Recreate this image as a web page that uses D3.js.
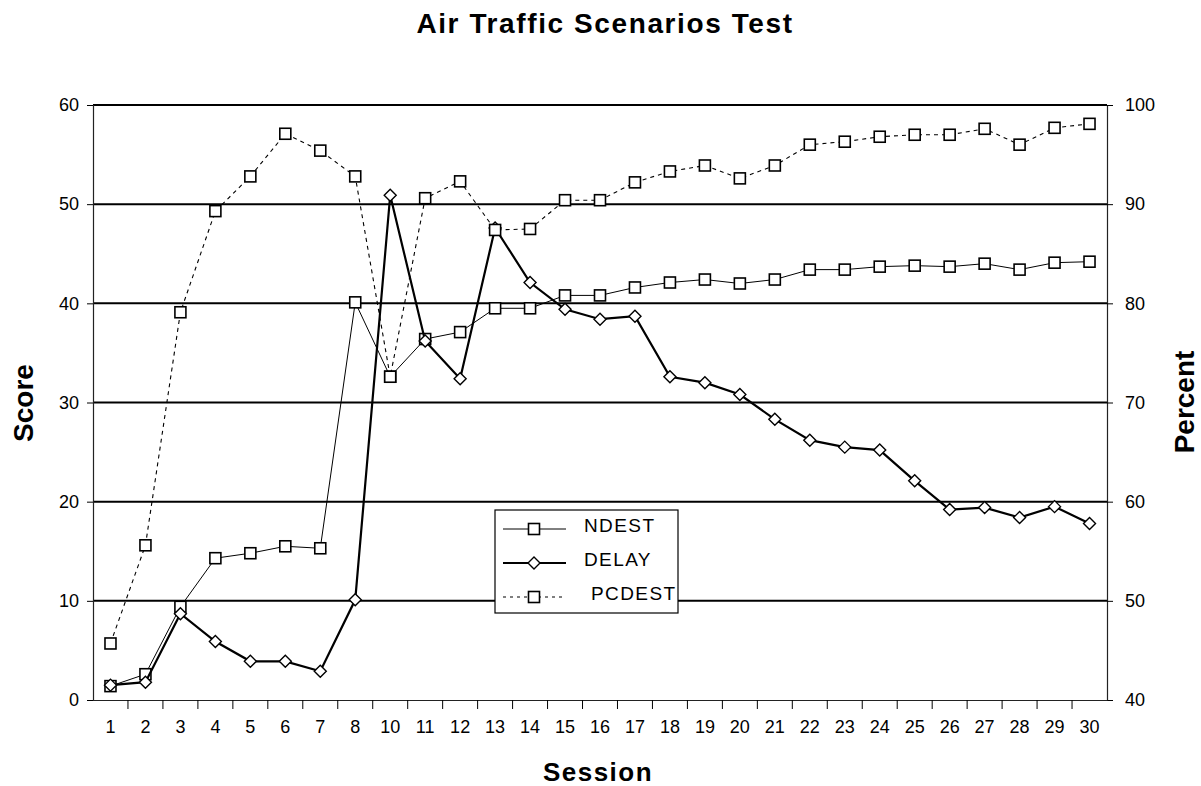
<!DOCTYPE html>
<html>
<head>
<meta charset="utf-8">
<script src="https://cdn.jsdelivr.net/npm/d3@7"></script>
<style>
  body { margin: 0; background: #fff; }
  text { font-family: "Liberation Sans", Arial, sans-serif; fill: #000; }
</style>
</head>
<body>
<div id="chart"></div>
<script>
// data (session 9 is missing in the original)
const sessions = ["1","2","3","4","5","6","7","8","10","11","12","13","14","15","16","17","18","19","20","21","22","23","24","25","26","27","28","29","30"];
const ndest = [1.4, 2.6, 9.4, 14.3, 14.8, 15.5, 15.3, 40.1, 32.6, 36.4, 37.1, 39.5, 39.5, 40.8, 40.8, 41.6, 42.1, 42.4, 42.0, 42.4, 43.4, 43.4, 43.7, 43.8, 43.7, 44.0, 43.4, 44.1, 44.2];
const delay = [1.5, 1.8, 8.7, 5.9, 3.9, 3.9, 2.9, 10.1, 50.9, 36.2, 32.4, 47.6, 42.1, 39.4, 38.4, 38.7, 32.6, 32.0, 30.8, 28.3, 26.2, 25.5, 25.2, 22.1, 19.2, 19.4, 18.4, 19.5, 17.8];
const pcdest = [45.7, 55.6, 79.1, 89.3, 92.8, 97.1, 95.4, 92.8, 72.6, 90.6, 92.3, 87.4, 87.5, 90.4, 90.4, 92.2, 93.3, 93.9, 92.6, 93.9, 96.0, 96.3, 96.8, 97.0, 97.0, 97.6, 96.0, 97.7, 98.1];
const scoreTicks = [0, 10, 20, 30, 40, 50, 60];
const percentTicks = [40, 50, 60, 70, 80, 90, 100];

const width = 1201, height = 786;
const plotLeft = 93, plotRight = 1107, plotTop = 105, plotBottom = 700;

const svg = d3.select("#chart").append("svg")
    .attr("width", width)
    .attr("height", height);

// scales
// ------------------------------------------------------
const x = d3.scaleBand().domain(sessions).range([plotLeft, plotRight]);
const yScore = d3.scaleLinear().domain([0, 60]).range([plotBottom, plotTop]);
const yPct = d3.scaleLinear().domain([40, 100]).range([plotBottom, plotTop]);
const cx = d => x(d) + x.bandwidth() / 2;

// gridlines
// ------------------------------------------------------
svg.append("g").selectAll("line")
    .data(scoreTicks.filter(t => t > 0))
    .join("line")
    .attr("x1", plotLeft).attr("x2", plotRight)
    .attr("y1", d => yScore(d)).attr("y2", d => yScore(d))
    .attr("stroke", "#000")
    .attr("stroke-width", 2);

// axes
// ------------------------------------------------------
const leftAxis = svg.append("g")
    .attr("transform", `translate(${plotLeft},0)`)
    .call(d3.axisLeft(yScore).tickValues(scoreTicks).tickSize(6).tickPadding(8));

const rightAxis = svg.append("g")
    .attr("transform", `translate(${plotRight},0)`)
    .call(d3.axisRight(yPct).tickValues(percentTicks).tickSize(6).tickPadding(12));

const bottomAxis = svg.append("g")
    .attr("transform", `translate(0,${plotBottom})`)
    .call(d3.axisBottom(x).tickSize(0).tickPadding(20));

// tick marks sit between the sessions
bottomAxis.selectAll(".sep")
    .data(sessions.slice(1))
    .join("line")
    .attr("class", "sep")
    .attr("x1", d => x(d)).attr("x2", d => x(d))
    .attr("y1", 0).attr("y2", 9)
    .attr("stroke", "#000");

[leftAxis, rightAxis, bottomAxis].forEach(a => {
    a.select(".domain").attr("stroke", "#222").attr("stroke-width", 1.2);
    a.selectAll(".tick line").attr("stroke", "#000");
    a.selectAll("text")
        .attr("font-family", "'Liberation Sans', Arial, sans-serif")
        .attr("font-size", 18)
        .attr("fill", "#000");
});

// series
// ------------------------------------------------------
const lineScore = d3.line().x((d, i) => cx(sessions[i])).y(d => yScore(d));
const linePct = d3.line().x((d, i) => cx(sessions[i])).y(d => yPct(d));

function square(g, cxv, cyv) {
    g.append("rect")
        .attr("x", cxv - 5.5).attr("y", cyv - 5.5)
        .attr("width", 11).attr("height", 11)
        .attr("fill", "#fff").attr("stroke", "#000").attr("stroke-width", 1.6);
}
function diamond(g, cxv, cyv) {
    g.append("path")
        .attr("d", `M${cxv},${cyv - 6}L${cxv + 6},${cyv}L${cxv},${cyv + 6}L${cxv - 6},${cyv}Z`)
        .attr("fill", "#fff").attr("stroke", "#000").attr("stroke-width", 1.4);
}

// NDEST
svg.append("path").datum(ndest)
    .attr("d", lineScore).attr("fill", "none")
    .attr("stroke", "#000").attr("stroke-width", 1);
const gN = svg.append("g");
ndest.forEach((v, i) => square(gN, cx(sessions[i]), yScore(v)));

// DELAY
svg.append("path").datum(delay)
    .attr("d", lineScore).attr("fill", "none")
    .attr("stroke", "#000").attr("stroke-width", 2.2);
const gD = svg.append("g");
delay.forEach((v, i) => diamond(gD, cx(sessions[i]), yScore(v)));

// PCDEST
svg.append("path").datum(pcdest)
    .attr("d", linePct).attr("fill", "none")
    .attr("stroke", "#000").attr("stroke-width", 1.1)
    .attr("stroke-dasharray", "4,4");
const gP = svg.append("g");
pcdest.forEach((v, i) => square(gP, cx(sessions[i]), yPct(v)));

// legend
// ------------------------------------------------------
const legend = svg.append("g").attr("transform", "translate(495,510)");
legend.append("rect")
    .attr("width", 183).attr("height", 103)
    .attr("fill", "#fff").attr("stroke", "#000").attr("stroke-width", 1.2);

const items = [
    { name: "NDEST", w: 1, dash: null, mark: square, tx: 89 },
    { name: "DELAY", w: 2.2, dash: null, mark: diamond, tx: 89 },
    { name: "PCDEST", w: 1.1, dash: "3,4", mark: square, tx: 96 }
];
items.forEach((it, i) => {
    const yy = 19 + i * 34;
    const l = legend.append("line")
        .attr("x1", 8).attr("x2", 71).attr("y1", yy).attr("y2", yy)
        .attr("stroke", "#000").attr("stroke-width", it.w);
    if (it.dash) l.attr("stroke-dasharray", it.dash);
    it.mark(legend, 39, yy);
    legend.append("text")
        .attr("x", it.tx).attr("y", yy + 3)
        .attr("font-size", 19)
        .attr("letter-spacing", 1.4)
        .text(it.name);
});

// titles
// ------------------------------------------------------
svg.append("text")
    .attr("x", 605).attr("y", 33)
    .attr("text-anchor", "middle")
    .attr("font-size", 28).attr("font-weight", "bold")
    .attr("letter-spacing", 1.6)
    .text("Air Traffic Scenarios Test");

svg.append("text")
    .attr("transform", "translate(33,403) rotate(-90)")
    .attr("text-anchor", "middle")
    .attr("font-size", 28).attr("font-weight", "bold")
    .text("Score");

svg.append("text")
    .attr("transform", "translate(1194,402) rotate(-90)")
    .attr("text-anchor", "middle")
    .attr("font-size", 28).attr("font-weight", "bold")
    .text("Percent");

svg.append("text")
    .attr("x", 598).attr("y", 781)
    .attr("text-anchor", "middle")
    .attr("font-size", 26).attr("font-weight", "bold")
    .attr("letter-spacing", 1.5)
    .text("Session");
</script>
</body>
</html>
